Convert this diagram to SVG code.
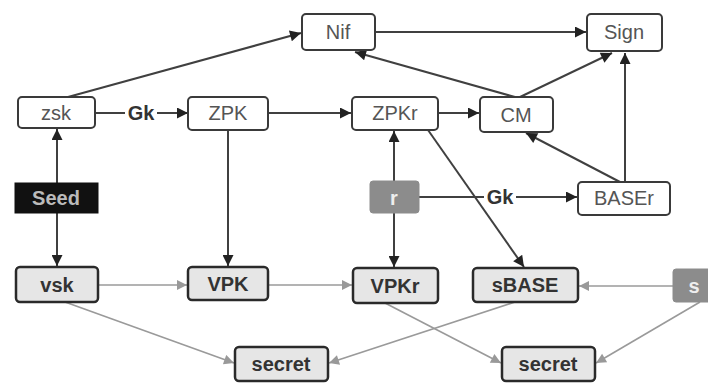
<svg xmlns="http://www.w3.org/2000/svg" width="708" height="384" viewBox="0 0 708 384">
<style>
text{font-family:"Liberation Sans",Arial,sans-serif;font-size:20px;text-anchor:middle;dominant-baseline:central}
.n rect{fill:#fff;stroke:#3a3a3a;stroke-width:2}
.n text{fill:#555}
.b rect{fill:#e6e6e6;stroke:#2a2a2a;stroke-width:2.5}
.b text{fill:#333;font-weight:bold}
.k rect{fill:#111;stroke:#111}
.k text{fill:#bbb;font-weight:bold}
.g rect{fill:#8c8c8c;stroke:#8c8c8c}
.g text{fill:#eee;font-weight:bold}
.d{stroke:#404040;stroke-width:2;fill:none;marker-end:url(#ad)}
.l{stroke:#9a9a9a;stroke-width:1.6;fill:none;marker-end:url(#al)}
.lbl{fill:#333;font-weight:bold}
</style>
<defs>
<marker id="ad" viewBox="0 0 10 10" refX="10" refY="5" markerWidth="14" markerHeight="11" markerUnits="userSpaceOnUse" orient="auto"><path d="M0,0L10,5L0,10z" fill="#222"/></marker>
<marker id="al" viewBox="0 0 10 10" refX="10" refY="5" markerWidth="13" markerHeight="10" markerUnits="userSpaceOnUse" orient="auto"><path d="M0,0L10,5L0,10z" fill="#999"/></marker>
</defs>
<rect width="708" height="384" fill="#fff"/>
<g id="connectors">
<path class="d" d="M95,113H188"/>
<path class="d" d="M68,97L301,33"/>
<path class="d" d="M268,113H351"/>
<path class="d" d="M228,130V266"/>
<path class="d" d="M375,32H586"/>
<path class="d" d="M515,97L355,52"/>
<path class="d" d="M520,97L612,53"/>
<path class="d" d="M438,113H479"/>
<path class="d" d="M620,182L526,133"/>
<path class="d" d="M625,182V53"/>
<path class="d" d="M394,181V131"/>
<path class="d" d="M394,213V267"/>
<path class="d" d="M419,197H577"/>
<path class="d" d="M428,130L524,267"/>
<path class="d" d="M57,183V129"/>
<path class="d" d="M57,213V266"/>
<path class="l" d="M98,285H187"/>
<path class="l" d="M268,285H352"/>
<path class="l" d="M673,286H579"/>
<path class="l" d="M65,302L234,363"/>
<path class="l" d="M515,302L329,363"/>
<path class="l" d="M385,303L501,363"/>
<path class="l" d="M700,302L596,363"/>
<rect x="125" y="103" width="32" height="20" fill="#fff"/>
<text class="lbl" x="141" y="113">Gk</text>
<rect x="484" y="187" width="32" height="20" fill="#fff"/>
<text class="lbl" x="500" y="197">Gk</text>
</g>
<g id="Nif" class="n"><rect x="302" y="14" width="73" height="36" rx="4"/><text x="338" y="32">Nif</text></g>
<g id="Sign" class="n"><rect x="587" y="14" width="75" height="37" rx="4"/><text x="624" y="32">Sign</text></g>
<g id="zsk" class="n"><rect x="18" y="97" width="77" height="31" rx="4"/><text x="56" y="113">zsk</text></g>
<g id="ZPK" class="n"><rect x="188" y="97" width="80" height="33" rx="4"/><text x="228" y="113">ZPK</text></g>
<g id="ZPKr" class="n"><rect x="352" y="97" width="86" height="33" rx="4"/><text x="395" y="113">ZPKr</text></g>
<g id="CM" class="n"><rect x="480" y="97" width="73" height="35" rx="4"/><text x="516" y="115">CM</text></g>
<g id="Seed" class="k"><rect x="15" y="183" width="83" height="30"/><text x="56" y="198">Seed</text></g>
<g id="r" class="g"><rect x="370" y="181" width="49" height="32" rx="3"/><text x="394" y="198">r</text></g>
<g id="BASEr" class="n"><rect x="578" y="182" width="92" height="33" rx="4"/><text x="624" y="198">BASEr</text></g>
<g id="vsk" class="b"><rect x="16" y="267" width="82" height="35" rx="4"/><text x="57" y="285">vsk</text></g>
<g id="VPK" class="b"><rect x="188" y="267" width="80" height="33" rx="4"/><text x="228" y="284">VPK</text></g>
<g id="VPKr" class="b"><rect x="353" y="268" width="85" height="35" rx="4"/><text x="395" y="286">VPKr</text></g>
<g id="sBASE" class="b"><rect x="473" y="268" width="105" height="34" rx="4"/><text x="525" y="285">sBASE</text></g>
<g id="s" class="g"><rect x="673" y="269" width="40" height="33" rx="3"/><text x="694" y="286">s</text></g>
<g id="secret1" class="b"><rect x="235" y="347" width="93" height="34" rx="4"/><text x="281" y="364">secret</text></g>
<g id="secret2" class="b"><rect x="502" y="347" width="93" height="34" rx="4"/><text x="548" y="364">secret</text></g>
</svg>
